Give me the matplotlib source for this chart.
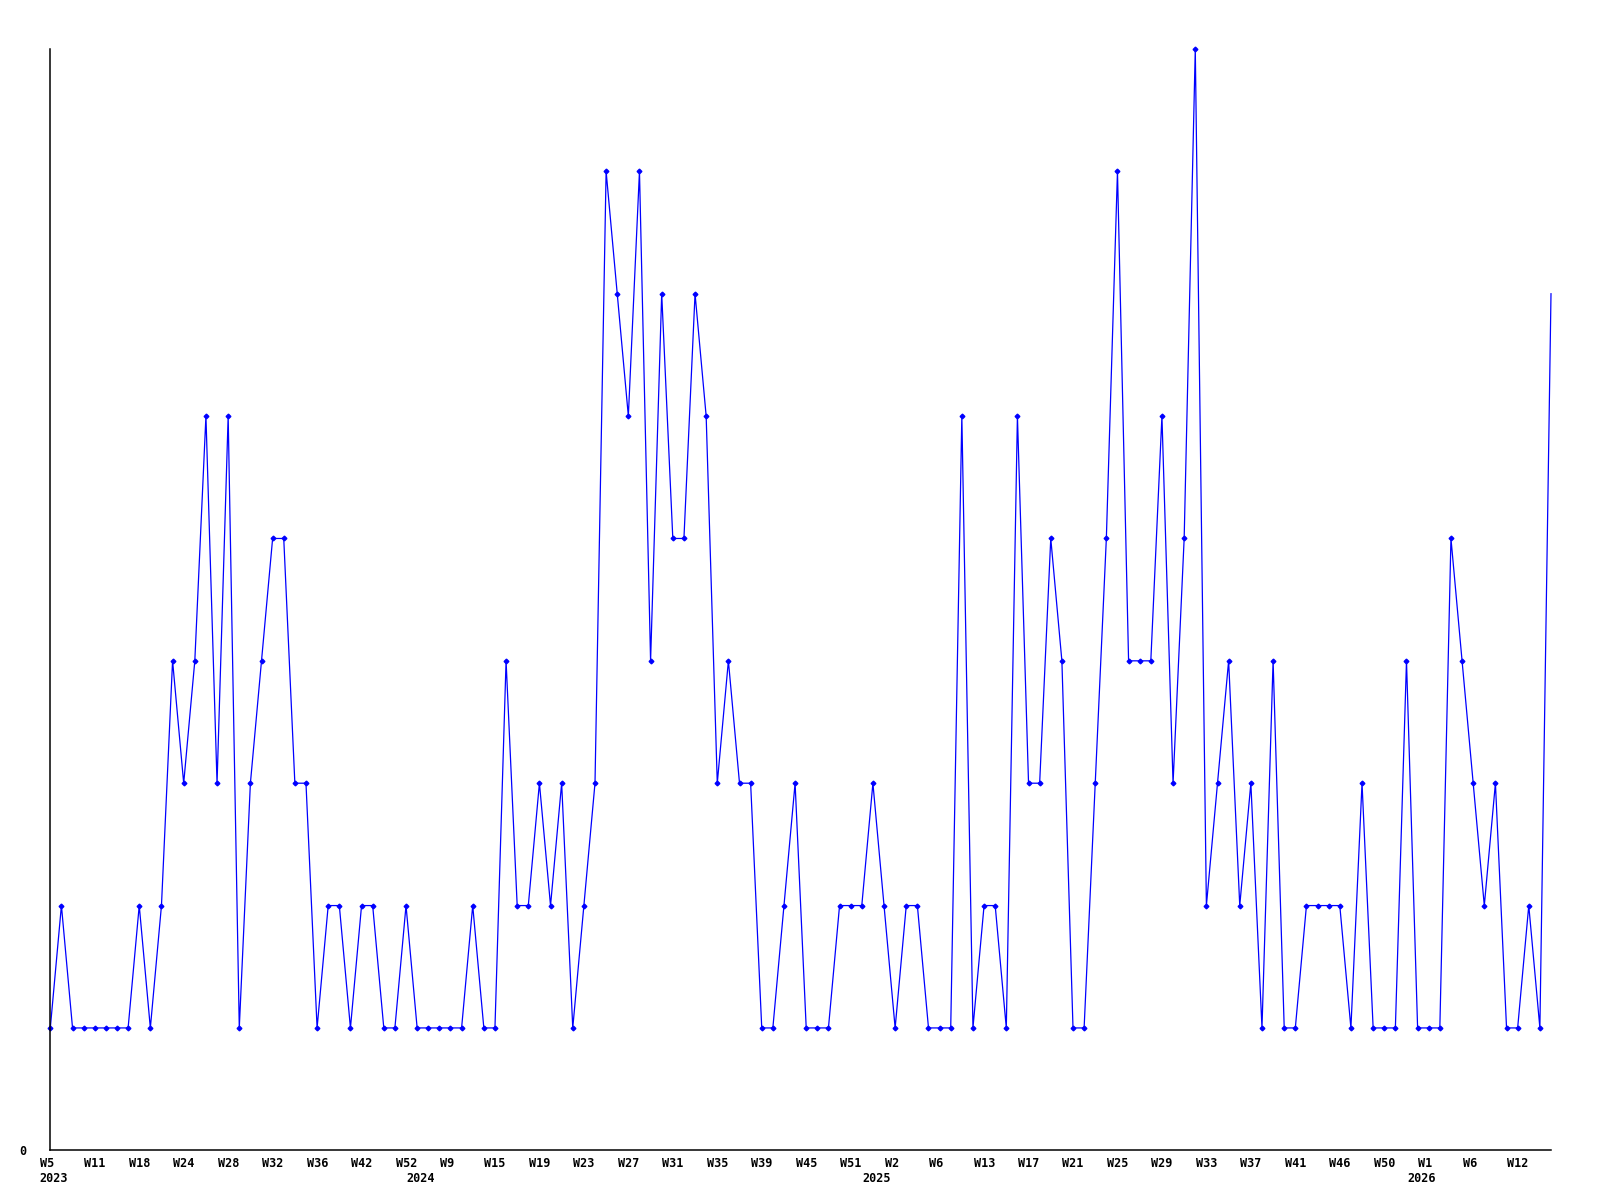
import matplotlib
matplotlib.use("Agg")
import matplotlib.pyplot as plt
from matplotlib.transforms import ScaledTranslation

# weekly counts, one point per week that has data
counts = [1, 2, 1, 1, 1, 1, 1, 1, 2, 1,
          2, 4, 3, 4, 6, 3, 6, 1, 3, 4,
          5, 5, 3, 3, 1, 2, 2, 1, 2, 2,
          1, 1, 2, 1, 1, 1, 1, 1, 2, 1,
          1, 4, 2, 2, 3, 2, 3, 1, 2, 3,
          8, 7, 6, 8, 4, 7, 5, 5, 7, 6,
          3, 4, 3, 3, 1, 1, 2, 3, 1, 1,
          1, 2, 2, 2, 3, 2, 1, 2, 2, 1,
          1, 1, 6, 1, 2, 2, 1, 6, 3, 3,
          5, 4, 1, 1, 3, 5, 8, 4, 4, 4,
          6, 3, 5, 9, 2, 3, 4, 2, 3, 1,
          4, 1, 1, 2, 2, 2, 2, 1, 3, 1,
          1, 1, 4, 1, 1, 1, 5, 4, 3, 2,
          3, 1, 1, 2, 1, 7]

# week labels, every 4th point
week_labels = ["W5", "W11", "W18", "W24", "W28", "W32", "W36", "W42", "W52",
               "W9", "W15", "W19", "W23", "W27", "W31", "W35", "W39", "W45",
               "W51", "W2", "W6", "W13", "W17", "W21", "W25", "W29", "W33",
               "W37", "W41", "W46", "W50", "W1", "W6", "W12"]
# first point of each year
year_labels = ["2023", "2024", "2025", "2026"]
year_index = [0, 33, 74, 123]

x = list(range(len(counts)))

fig = plt.figure(figsize=(16, 12), dpi=100)
ax = fig.add_axes([50.3 / 1600, 1 - 1150.3 / 1200, 1500.7 / 1600, 1101.3 / 1200])

# last marker is cut off at the right edge in the original
ax.plot(x, counts, color="#0000ff", lw=0.9, marker="D", ms=2.4,
        mec="#0000ff", mfc="#0000ff", markevery=list(range(len(counts) - 1)),
        clip_on=False)

ax.set_xlim(0, len(counts) - 1)
ax.set_ylim(0, 9)

for s in ["top", "right"]:
    ax.spines[s].set_visible(False)
for s in ["left", "bottom"]:
    ax.spines[s].set_color("black")
    ax.spines[s].set_linewidth(1.1)

font = dict(family="DejaVu Sans Mono", weight="bold", size=8.5)

ax.xaxis.remove_overlapping_locs = False
ax.set_xticks(range(0, len(counts), 4), week_labels, **font)
ax.set_xticks(year_index, year_labels, minor=True, **font)
ax.tick_params(axis="x", which="major", length=0, pad=5.0)
ax.tick_params(axis="x", which="minor", length=0, pad=15.5)

ax.set_yticks([0], ["0"], **font)
ax.tick_params(axis="y", length=0, pad=17)

# labels start a little left of their point
shift = ScaledTranslation(-10.5 / 100, 0, fig.dpi_scale_trans)
for lab in ax.get_xticklabels(which="both"):
    lab.set_horizontalalignment("left")
    lab.set_transform(lab.get_transform() + shift)

fig.savefig("out.png", dpi=100, facecolor="white")
